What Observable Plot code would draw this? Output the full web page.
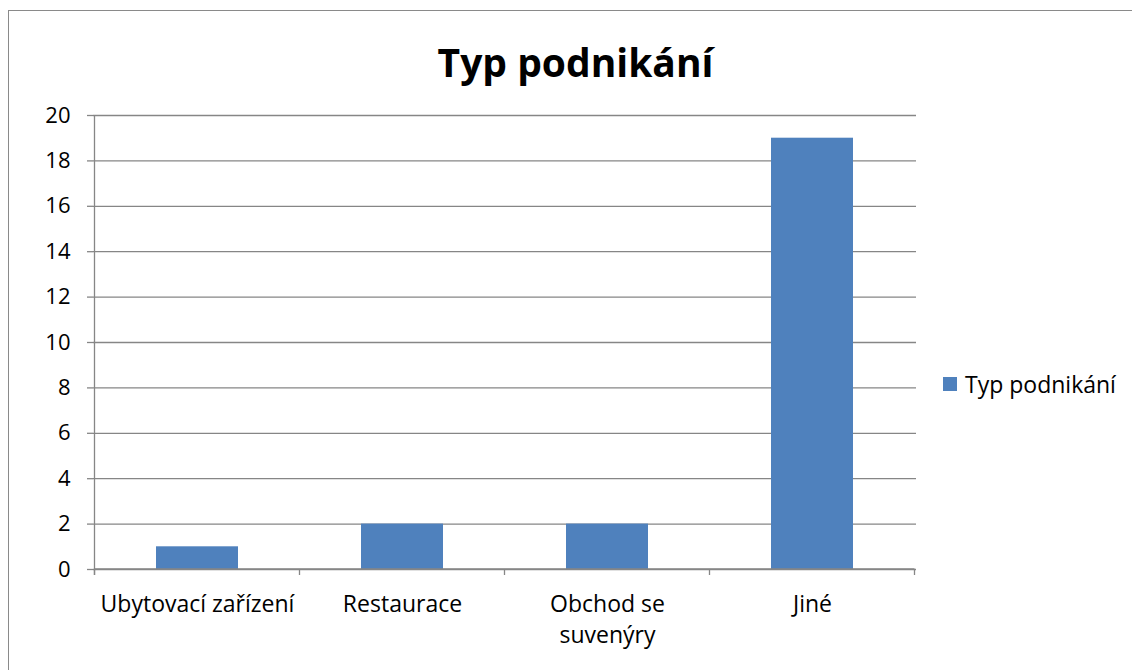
<!DOCTYPE html>
<html>
<head>
<meta charset="utf-8">
<script src="https://cdn.jsdelivr.net/npm/d3@7"></script>
<script src="https://cdn.jsdelivr.net/npm/@observablehq/plot@0.6"></script>
<style>
  html, body { margin: 0; padding: 0; background: #fff; }
  #wrap { position: relative; width: 1132px; height: 670px; overflow: hidden; font-family: "Open Sans", "Noto Sans", sans-serif; }
  #border { position: absolute; left: 8px; top: 10px; width: 1200px; height: 700px; border-left: 1.5px solid #8a8a8a; border-top: 1.5px solid #8a8a8a; box-sizing: border-box; }
  #title { position: absolute; left: 19px; width: 1113px; top: 35px; text-align: center; font-weight: bold; font-size: 39px; line-height: 54px; color: #000; }
  #legend { position: absolute; left: 943px; top: 369px; font-size: 23px; line-height: 30px; color: #000; display: flex; align-items: center; }
  #legend .sw { width: 14px; height: 14px; margin-right: 8px; }
  #chart { position: absolute; left: 0; top: 0; }
</style>
</head>
<body>
<div id="wrap">
  <div id="border"></div>
  <div id="chart"></div>
  <div id="title"></div>
  <div id="legend"></div>
</div>
<script>
const title = "Typ podnikání";
const seriesName = "Typ podnikání";
const categories = ["Ubytovací zařízení", "Restaurace", "Obchod se suvenýry", "Jiné"];
const values = [1, 2, 2, 19];
const yTicks = [0, 2, 4, 6, 8, 10, 12, 14, 16, 18, 20];
const labelLines = {"Obchod se suvenýry": "Obchod se\nsuvenýry"};
const barColor = "#4F81BD";
const gridColor = "#868686";

const data = categories.map((c, i) => ({category: c, value: values[i]}));

const plot = Plot.plot({
  width: 1132,
  height: 670,
  marginLeft: 93,
  marginRight: 216,
  marginTop: 115,
  marginBottom: 101,
  style: {fontFamily: "'Open Sans', 'Noto Sans', sans-serif", fontSize: "22px", color: "#000", background: "transparent"},
  x: {domain: categories, paddingInner: 0.6, paddingOuter: 0.3, axis: null},
  y: {domain: [0, 20], axis: null},
  marks: [
    Plot.gridY(yTicks, {stroke: gridColor, strokeOpacity: 1, strokeWidth: 1.3}),
    Plot.axisY(yTicks, {tickSize: 6, tickPadding: 17, stroke: gridColor, strokeWidth: 1.3, fill: "#000", fontSize: 22, label: null}),
    Plot.barY(data, {x: "category", y: "value", fill: barColor}),
    Plot.text(categories, {x: d => d, frameAnchor: "bottom", lineAnchor: "top", dy: 20, text: d => labelLines[d] || d, lineHeight: 1.36, fontSize: 23, fill: "#000"})
  ]
});
document.getElementById("chart").appendChild(plot);

// axis lines and category boundary ticks drawn from the plot's scales
const xs = plot.scale("x");
const ys = plot.scale("y");
const svg = d3.select(plot);
const gap = (xs.step - xs.bandwidth) / 2;
const bounds = categories.map(c => xs.apply(c) - gap);
bounds.push(xs.apply(categories[categories.length - 1]) + xs.bandwidth + gap);
const y0 = ys.apply(0), y20 = ys.apply(20);
const g = svg.append("g").attr("stroke", gridColor).attr("stroke-width", 1.3);
g.append("line").attr("x1", bounds[0]).attr("x2", bounds[0]).attr("y1", y20).attr("y2", y0 + 6);
g.append("line").attr("x1", bounds[0]).attr("x2", bounds[bounds.length - 1]).attr("y1", y0).attr("y2", y0);
g.selectAll(".bt").data(bounds).join("line")
  .attr("x1", d => d).attr("x2", d => d).attr("y1", y0).attr("y2", y0 + 6);

document.getElementById("title").textContent = title;
const lg = document.getElementById("legend");
const sw = document.createElement("div");
sw.className = "sw"; sw.style.background = barColor;
const lt = document.createElement("span"); lt.textContent = seriesName;
lg.appendChild(sw); lg.appendChild(lt);
</script>
</body>
</html>
